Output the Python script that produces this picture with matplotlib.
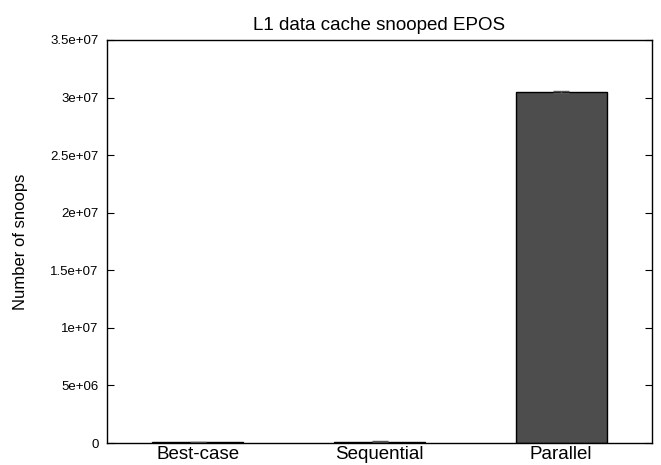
import matplotlib
matplotlib.use("Agg")
import matplotlib.pyplot as plt
from matplotlib.ticker import FuncFormatter

categories = ["Best-case", "Sequential", "Parallel"]
snoops = [60000, 130000, 30500000]
errors = [20000, 20000, 60000]
yticks = [0, 5e6, 1e7, 1.5e7, 2e7, 2.5e7, 3e7, 3.5e7]


def gp_fmt(v, pos):
    if v == 0:
        return "0"
    m, e = f"{v:e}".split("e")
    m = m.rstrip("0").rstrip(".")
    return f"{m}e+{int(e):02d}"


plt.rcParams["font.family"] = ["Liberation Sans", "DejaVu Sans"]

fig = plt.figure(figsize=(6.61, 4.65), dpi=100)
ax = fig.add_axes([107 / 661, 22 / 465, 545 / 661, 403 / 465])

x = range(len(categories))
ax.bar(x, snoops, width=0.5, color="#4d4d4d", edgecolor="black", linewidth=1.0,
       yerr=errors, error_kw=dict(ecolor="#555555", elinewidth=1, capsize=6, capthick=1))

ax.set_xlim(-0.5, 2.5)
ax.set_ylim(0, 3.5e7)
ax.set_yticks(yticks)
ax.yaxis.set_major_formatter(FuncFormatter(gp_fmt))
ax.set_xticks(list(x))
ax.set_xticklabels(categories, fontsize=13.5)
ax.tick_params(axis="y", direction="in", length=5, right=True, labelsize=9.5, pad=6)
ax.tick_params(axis="x", length=0, pad=2)
for s in ax.spines.values():
    s.set_linewidth(1.0)

ax.set_ylabel("Number of snoops", fontsize=12, labelpad=16)
ax.set_title("L1 data cache snooped EPOS", fontsize=13.5, pad=7)

fig.savefig("out.png", dpi=100)
